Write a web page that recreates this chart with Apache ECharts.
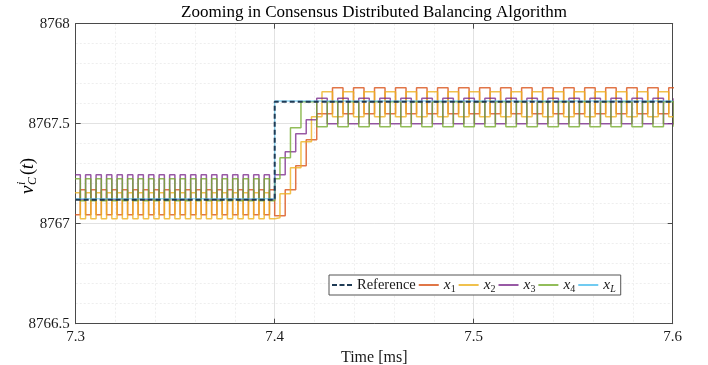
<!DOCTYPE html>
<html>
<head>
<meta charset="utf-8">
<script src="https://cdn.jsdelivr.net/npm/echarts@6/dist/echarts.min.js"></script>
<style>html,body{margin:0;padding:0;background:#fff;}#c{width:708px;height:365px;}</style>
</head>
<body>
<div id="c"></div>
<script>
// ---- data ----
const titleText = 'Zooming in Consensus Distributed Balancing Algorithm';
const xTickLabels = ['7.3', '7.4', '7.5', '7.6'];
const yTickLabels = ['8766.5', '8767', '8767.5', '8768'];
const seriesNames = ['Reference', 'x1', 'x2', 'x3', 'x4', 'xL'];

// sample grid: sample time 0.00264 ms, 38 samples before 7.4 ms, 77 from 7.4 ms
const stepStart = 7.4;
const sampleTime = 0.00264;
const samplesBefore = 38;

const refTimes = [7.3, 7.4, 7.6];
const refValues = [8767.12, 8767.61, 8767.61];
const xLTimes = [7.3, 7.4, 7.6];
const xLValues = [8767.125, 8767.613, 8767.613];

const x1Values = [
  8767.045, 8767.17, 8767.045, 8767.17, 8767.045, 8767.17, 8767.045, 8767.17,
  8767.045, 8767.17, 8767.045, 8767.17, 8767.045, 8767.17, 8767.045, 8767.17,
  8767.045, 8767.17, 8767.045, 8767.17, 8767.045, 8767.17, 8767.045, 8767.17,
  8767.045, 8767.17, 8767.045, 8767.17, 8767.045, 8767.17, 8767.045, 8767.17,
  8767.045, 8767.17, 8767.045, 8767.17, 8767.045, 8767.17,
  8767.04, 8767.04, 8767.17, 8767.17, 8767.29, 8767.29, 8767.42, 8767.42, 8767.55, 8767.55, 8767.55,
  8767.68, 8767.68, 8767.55, 8767.55, 8767.68, 8767.68, 8767.55, 8767.55,
  8767.68, 8767.68, 8767.55, 8767.55, 8767.68, 8767.68, 8767.55, 8767.55,
  8767.68, 8767.68, 8767.55, 8767.55, 8767.68, 8767.68, 8767.55, 8767.55,
  8767.68, 8767.68, 8767.55, 8767.55, 8767.68, 8767.68, 8767.55, 8767.55,
  8767.68, 8767.68, 8767.55, 8767.55, 8767.68, 8767.68, 8767.55, 8767.55,
  8767.68, 8767.68, 8767.55, 8767.55, 8767.68, 8767.68, 8767.55, 8767.55,
  8767.68, 8767.68, 8767.55, 8767.55, 8767.68, 8767.68, 8767.55, 8767.55,
  8767.68, 8767.68, 8767.55, 8767.55, 8767.68, 8767.68, 8767.55, 8767.55,
  8767.68, 8767.68
];

const x2Values = [
  8767.155, 8767.025, 8767.155, 8767.025, 8767.155, 8767.025, 8767.155, 8767.025,
  8767.155, 8767.025, 8767.155, 8767.025, 8767.155, 8767.025, 8767.155, 8767.025,
  8767.155, 8767.025, 8767.155, 8767.025, 8767.155, 8767.025, 8767.155, 8767.025,
  8767.155, 8767.025, 8767.155, 8767.025, 8767.155, 8767.025, 8767.155, 8767.025,
  8767.155, 8767.025, 8767.155, 8767.025, 8767.155, 8767.025,
  8767.03, 8767.15, 8767.15, 8767.28, 8767.28, 8767.41, 8767.41, 8767.535, 8767.535,
  8767.66, 8767.66, 8767.535, 8767.535, 8767.66, 8767.66, 8767.535, 8767.535,
  8767.66, 8767.66, 8767.535, 8767.535, 8767.66, 8767.66, 8767.535, 8767.535,
  8767.66, 8767.66, 8767.535, 8767.535, 8767.66, 8767.66, 8767.535, 8767.535,
  8767.66, 8767.66, 8767.535, 8767.535, 8767.66, 8767.66, 8767.535, 8767.535,
  8767.66, 8767.66, 8767.535, 8767.535, 8767.66, 8767.66, 8767.535, 8767.535,
  8767.66, 8767.66, 8767.535, 8767.535, 8767.66, 8767.66, 8767.535, 8767.535,
  8767.66, 8767.66, 8767.535, 8767.535, 8767.66, 8767.66, 8767.535, 8767.535,
  8767.66, 8767.66, 8767.535, 8767.535, 8767.66, 8767.66, 8767.535, 8767.535,
  8767.66, 8767.66, 8767.535, 8767.535
];

const x3Values = [
  8767.245, 8767.12, 8767.245, 8767.12, 8767.245, 8767.12, 8767.245, 8767.12,
  8767.245, 8767.12, 8767.245, 8767.12, 8767.245, 8767.12, 8767.245, 8767.12,
  8767.245, 8767.12, 8767.245, 8767.12, 8767.245, 8767.12, 8767.245, 8767.12,
  8767.245, 8767.12, 8767.245, 8767.12, 8767.245, 8767.12, 8767.245, 8767.12,
  8767.245, 8767.12, 8767.245, 8767.12, 8767.245, 8767.12,
  8767.245, 8767.245, 8767.36, 8767.36, 8767.45, 8767.45, 8767.52, 8767.52,
  8767.627, 8767.627, 8767.50, 8767.50, 8767.627, 8767.627, 8767.50, 8767.50,
  8767.627, 8767.627, 8767.50, 8767.50, 8767.627, 8767.627, 8767.50, 8767.50,
  8767.627, 8767.627, 8767.50, 8767.50, 8767.627, 8767.627, 8767.50, 8767.50,
  8767.627, 8767.627, 8767.50, 8767.50, 8767.627, 8767.627, 8767.50, 8767.50,
  8767.627, 8767.627, 8767.50, 8767.50, 8767.627, 8767.627, 8767.50, 8767.50,
  8767.627, 8767.627, 8767.50, 8767.50, 8767.627, 8767.627, 8767.50, 8767.50,
  8767.627, 8767.627, 8767.50, 8767.50, 8767.627, 8767.627, 8767.50, 8767.50,
  8767.627, 8767.627, 8767.50, 8767.50, 8767.627, 8767.627, 8767.50, 8767.50,
  8767.627, 8767.627, 8767.50, 8767.50,
  8767.627
];

const x4Values = [
  8767.225, 8767.115, 8767.225, 8767.115, 8767.225, 8767.115, 8767.225, 8767.115,
  8767.225, 8767.115, 8767.225, 8767.115, 8767.225, 8767.115, 8767.225, 8767.115,
  8767.225, 8767.115, 8767.225, 8767.115, 8767.225, 8767.115, 8767.225, 8767.115,
  8767.225, 8767.115, 8767.225, 8767.115, 8767.225, 8767.115, 8767.225, 8767.115,
  8767.225, 8767.115, 8767.225, 8767.115, 8767.225, 8767.115,
  8767.225, 8767.33, 8767.33, 8767.48, 8767.48, 8767.61, 8767.61, 8767.61,
  8767.485, 8767.485, 8767.61, 8767.61, 8767.485, 8767.485, 8767.61, 8767.61,
  8767.485, 8767.485, 8767.61, 8767.61, 8767.485, 8767.485, 8767.61, 8767.61,
  8767.485, 8767.485, 8767.61, 8767.61, 8767.485, 8767.485, 8767.61, 8767.61,
  8767.485, 8767.485, 8767.61, 8767.61, 8767.485, 8767.485, 8767.61, 8767.61,
  8767.485, 8767.485, 8767.61, 8767.61, 8767.485, 8767.485, 8767.61, 8767.61,
  8767.485, 8767.485, 8767.61, 8767.61, 8767.485, 8767.485, 8767.61, 8767.61,
  8767.485, 8767.485, 8767.61, 8767.61, 8767.485, 8767.485, 8767.61, 8767.61,
  8767.485, 8767.485, 8767.61, 8767.61, 8767.485, 8767.485, 8767.61, 8767.61,
  8767.485, 8767.485, 8767.61, 8767.61,
  8767.485
];

// ---- build ----
function sampled(vals) {
  return vals.map((v, i) => [stepStart + (i - samplesBefore) * sampleTime, v]);
}
function paired(ts, vs) { return ts.map((t, i) => [t, vs[i]]); }

const FONT = '"Liberation Serif", "Times New Roman", serif';
const colors = {
  Reference: '#1f3b55', x1: '#D95319', x2: '#EDB120', x3: '#7E2F8E', x4: '#77AC30', xL: '#4DBEEE'
};
const legendLabel = {
  Reference: 'Reference',
  x1: '{i|x}{s|1}', x2: '{i|x}{s|2}', x3: '{i|x}{s|3}', x4: '{i|x}{s|4}', xL: '{i|x}{si|L}'
};
const solidIcon = 'path://M0,0h20v1.6h-20z';
const dashIcon = 'path://M0,0h5v2h-5zM7.5,0h5v2h-5zM15,0h5v2h-5z';

function lineSeries(name, data, z, extra) {
  return Object.assign({
    name: name, type: 'line', step: 'end', data: data, showSymbol: false, symbol: 'none',
    xAxisIndex: 0, yAxisIndex: 0, z: z, clip: true,
    lineStyle: { color: colors[name], width: 1.5, opacity: 0.8 },
    itemStyle: { color: colors[name] }
  }, extra || {});
}

const chart = echarts.init(document.getElementById('c'), null, { renderer: 'canvas' });
const grid = { left: 75.7, right: 35.3, top: 23.7, bottom: 41.3, containLabel: false, outerBoundsMode: 'none' };

const xBase = { type: 'value', min: 7.3, max: 7.6, interval: 0.1 };
const yBase = { type: 'value', min: 8766.5, max: 8768, interval: 0.5 };
const axisLineStyle = { color: '#4a4a4a', width: 1 };

chart.setOption({
  animation: false,
  grid: grid,
  xAxis: [
    Object.assign({}, xBase, {
      position: 'bottom',
      axisLine: { show: true, onZero: false, lineStyle: axisLineStyle },
      axisTick: { show: true, inside: true, length: 5, lineStyle: axisLineStyle },
      minorTick: { show: false, splitNumber: 5 },
      axisLabel: {
        margin: 6, color: '#1a1a1a', fontFamily: FONT, fontSize: 15,
        formatter: v => xTickLabels[Math.round((v - 7.3) / 0.1)]
      },
      splitLine: { show: true, lineStyle: { color: '#e2e2e2', width: 1 } },
      minorSplitLine: { show: true, lineStyle: { color: '#eeeeee', width: 1, type: [2, 2] } },
      name: 'Time [ms]', nameLocation: 'middle', nameGap: 22,
      nameTextStyle: { fontFamily: FONT, fontSize: 16, color: '#1a1a1a' }
    }),
    Object.assign({}, xBase, {
      position: 'top',
      axisLine: { show: true, onZero: false, lineStyle: axisLineStyle },
      axisTick: { show: true, inside: true, length: 5, lineStyle: axisLineStyle },
      axisLabel: { show: false },
      splitLine: { show: false }
    })
  ],
  yAxis: [
    Object.assign({}, yBase, {
      position: 'left',
      axisLine: { show: true, onZero: false, lineStyle: axisLineStyle },
      axisTick: { show: true, inside: true, length: 5, lineStyle: axisLineStyle },
      minorTick: { show: false, splitNumber: 5 },
      axisLabel: {
        margin: 6, color: '#1a1a1a', fontFamily: FONT, fontSize: 15,
        formatter: v => yTickLabels[Math.round((v - 8766.5) / 0.5)]
      },
      splitLine: { show: true, lineStyle: { color: '#e2e2e2', width: 1 } },
      minorSplitLine: { show: true, lineStyle: { color: '#eeeeee', width: 1, type: [2, 2] } }
    }),
    Object.assign({}, yBase, {
      position: 'right',
      axisLine: { show: true, onZero: false, lineStyle: axisLineStyle },
      axisTick: { show: true, inside: true, length: 5, lineStyle: axisLineStyle },
      axisLabel: { show: false },
      splitLine: { show: false }
    })
  ],
  legend: {
    data: seriesNames.map(n => ({ name: n, icon: n === 'Reference' ? dashIcon : solidIcon })),
    left: 329, top: 275,
    orient: 'horizontal',
    backgroundColor: '#ffffff',
    borderColor: '#555555', borderWidth: 1,
    padding: [1, 5, 1, 3],
    itemGap: 3, itemWidth: 20, itemHeight: 10,
    formatter: n => legendLabel[n],
    textStyle: {
      fontFamily: FONT, fontSize: 14.5, color: '#1a1a1a', lineHeight: 18,
      rich: {
        i: { fontFamily: FONT, fontStyle: 'italic', fontSize: 15.5, lineHeight: 18, color: '#1a1a1a' },
        s: { fontFamily: FONT, fontSize: 10, lineHeight: 18, verticalAlign: 'bottom', color: '#1a1a1a' },
        si: { fontFamily: FONT, fontSize: 10, fontStyle: 'italic', lineHeight: 18, verticalAlign: 'bottom', color: '#1a1a1a' }
      }
    }
  },
  graphic: [
    {
      type: 'text', x: 374, y: 4,
      style: { text: titleText, font: '17px ' + FONT, fill: '#000', align: 'center', verticalAlign: 'top' }
    },
    {
      type: 'group', x: 28, y: 174, rotation: Math.PI / 2,
      children: [
        { type: 'text', x: -20, y: 0, style: { text: 'v', font: 'italic 19px ' + FONT, fill: '#000', verticalAlign: 'middle', align: 'left' } },
        { type: 'text', x: -11, y: -6, style: { text: 'i', font: 'italic 12px ' + FONT, fill: '#000', verticalAlign: 'middle', align: 'left' } },
        { type: 'text', x: -11, y: 5, style: { text: 'C', font: 'italic 12px ' + FONT, fill: '#000', verticalAlign: 'middle', align: 'left' } },
        { type: 'text', x: -1, y: 0, style: { text: '({t|t})', font: '18px ' + FONT, fill: '#000', verticalAlign: 'middle', align: 'left',
            rich: { t: { fontStyle: 'italic', fontSize: 18, fontFamily: FONT } } } }
      ]
    }
  ],
  series: [
    lineSeries('Reference', paired(refTimes, refValues), 10, {
      lineStyle: { color: colors.Reference, width: 2, type: [5, 3], opacity: 1 }
    }),
    lineSeries('x1', sampled(x1Values), 3),
    lineSeries('x2', sampled(x2Values), 3),
    lineSeries('x3', sampled(x3Values), 3),
    lineSeries('x4', sampled(x4Values), 3),
    lineSeries('xL', paired(xLTimes, xLValues), 4, {
      lineStyle: { color: colors.xL, width: 1.5, opacity: 0.6 }
    })
  ]
});
</script>
</body>
</html>
